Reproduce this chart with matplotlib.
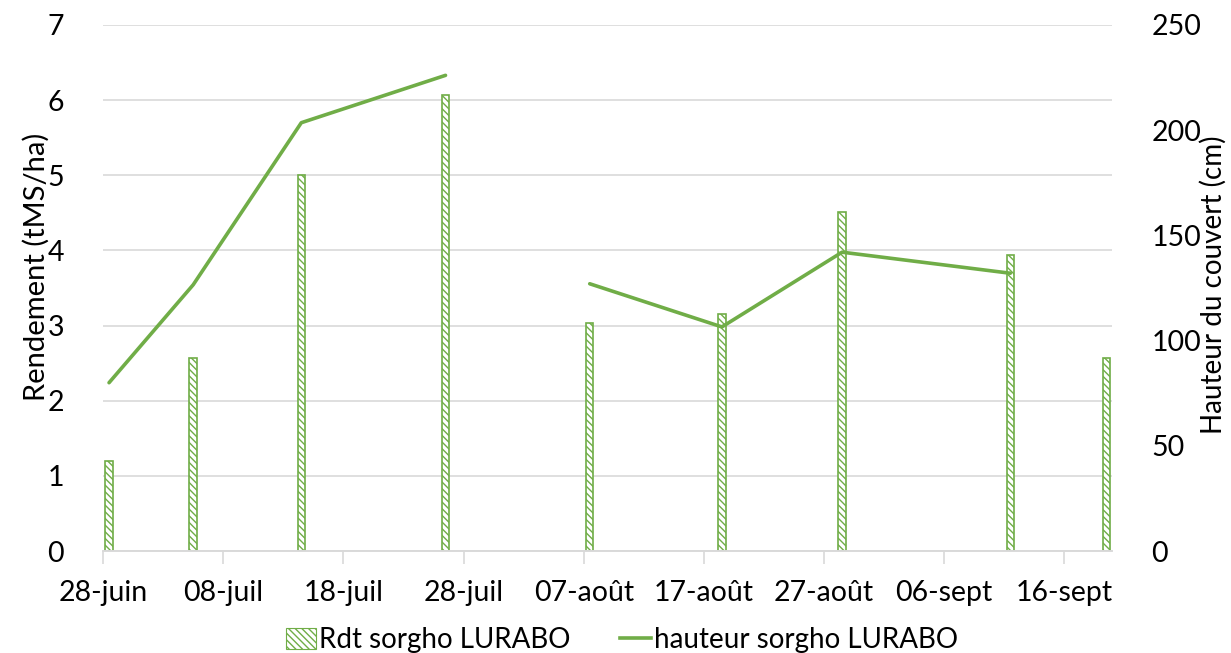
import datetime as dt
import numpy as np
import matplotlib.pyplot as plt
import matplotlib.dates as mdates
from matplotlib.patches import Patch
from matplotlib.lines import Line2D

plt.rcParams['font.family'] = ['Lato', 'DejaVu Sans']

# rendement (barres)
dates_rdt = ['2019-06-28', '2019-07-05', '2019-07-14', '2019-07-26', '2019-08-07',
             '2019-08-18', '2019-08-28', '2019-09-11', '2019-09-19']
rdt = [1.2, 2.57, 5.0, 6.06, 3.03, 3.15, 4.51, 3.94, 2.57]

# hauteur du couvert (courbe), une date sans mesure -> trou dans la courbe
dates_haut = ['2019-06-28', '2019-07-05', '2019-07-14', '2019-07-26', '2019-08-01',
              '2019-08-07', '2019-08-18', '2019-08-28', '2019-09-11']
hauteur = [80, 126.5, 203.5, 226, None, 127, 106.5, 142, 132]

tick_dates = ['2019-06-28', '2019-07-08', '2019-07-18', '2019-07-28', '2019-08-07',
              '2019-08-17', '2019-08-27', '2019-09-06', '2019-09-16']
tick_labels = ['28-juin', '08-juil', '18-juil', '28-juil', '07-août',
               '17-août', '27-août', '06-sept', '16-sept']

vert = '#70AD47'
gris = '#D9D9D9'
hachure = '\\\\\\\\\\'

def d2n(lst):
    return [mdates.date2num(dt.datetime.strptime(s, '%Y-%m-%d')) for s in lst]

x_rdt = np.array(d2n(dates_rdt)) + 0.5
x_haut = np.array(d2n(dates_haut)) + 0.5
h = np.array([np.nan if v is None else v for v in hauteur], dtype=float)
x_ticks = d2n(tick_dates)

fig = plt.figure(figsize=(12.31, 6.53), dpi=100)
ax = fig.add_axes([0.0837, 0.156, 0.82, 0.806])
ax2 = ax.twinx()

ax.bar(x_rdt, rdt, width=0.62, facecolor='white', edgecolor=vert,
       hatch=hachure, linewidth=1.2, zorder=2)
ax2.plot(x_haut, h, color=vert, linewidth=2.6, solid_capstyle='round')

x0 = x_ticks[0]
ax.set_xlim(x0, x0 + 84)
ax.set_ylim(0, 7)
ax2.set_ylim(0, 250)
ax.set_yticks(range(0, 8))
ax2.set_yticks(range(0, 251, 50))
ax.set_xticks(x_ticks)
ax.set_xticklabels(tick_labels)

ax.yaxis.grid(True, color=gris, linewidth=1.2)
ax.set_axisbelow(True)
for a in (ax, ax2):
    for s in ('top', 'left', 'right'):
        a.spines[s].set_visible(False)
    a.spines['bottom'].set_color(gris)
    a.spines['bottom'].set_linewidth(1.2)
    a.tick_params(axis='y', length=0, labelsize=20.5, pad=28)
ax.tick_params(axis='x', length=9, color=gris, width=1.2, labelsize=20.5, pad=12)

ax.set_ylabel('Rendement (tMS/ha)', fontsize=21)
ax2.set_ylabel('Hauteur du couvert (cm)', fontsize=20)
ax.yaxis.set_label_coords(-0.066, 0.54)
ax2.yaxis.set_label_coords(1.1, 0.507)
ax.yaxis.label.set_va('center')
ax2.yaxis.label.set_va('center')

handles = [Patch(facecolor='white', edgecolor=vert, hatch=hachure, linewidth=0.8),
           Line2D([0], [0], color=vert, linewidth=2.6)]
fig.legend(handles, ['Rdt sorgho LURABO', 'hauteur sorgho LURABO'],
           loc='lower center', bbox_to_anchor=(0.505, -0.038), ncol=2, frameon=False,
           fontsize=20, handlelength=1.1, handleheight=0.8, handletextpad=0.1,
           columnspacing=1.8)

fig.savefig('out.png', dpi=100)
